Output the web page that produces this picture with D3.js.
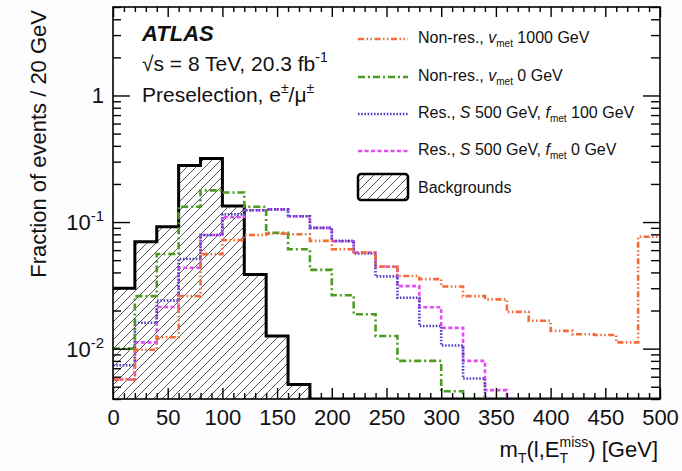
<!DOCTYPE html>
<html lang="en">
<head>
    <meta charset="UTF-8">
    <title>mT distribution, preselection</title>
    <script src="https://d3js.org/d3.v7.min.js"></script>
    <style>
        body { margin: 0; background-color: #fdfcfe; font-family: "Liberation Sans", Arial, sans-serif; }
        svg { display: block; }
        text { fill: #111; }
    </style>
</head>
<body>
    <div id="chart"></div>
    <script>
        // bin lower edges (GeV), 20 GeV bins
        const binEdges = [0, 20, 40, 60, 80, 100, 120, 140, 160, 180, 200, 220, 240,
            260, 280, 300, 320, 340, 360, 380, 400, 420, 440, 460, 480];
        const xMax = 500;

        // fraction of events per bin
        const backgrounds = [0.030, 0.070, 0.092, 0.280, 0.318, 0.134, 0.0385, 0.0126, 0.0052,
            0, 0, 0, 0, 0, 0, 0, 0, 0, 0, 0, 0, 0, 0, 0, 0];
        const nonRes1000 = [0.0057, 0.0098, 0.0123, 0.026, 0.0558, 0.072, 0.079, 0.081, 0.080,
            0.071, 0.061, 0.0575, 0.0445, 0.0375, 0.0354, 0.031, 0.026, 0.0245, 0.0195,
            0.0166, 0.0138, 0.013, 0.0128, 0.0112, 0.0766];
        const nonRes0 = [0.010, 0.026, 0.056, 0.132, 0.178, 0.171, 0.132, 0.0824, 0.061,
            0.0419, 0.0264, 0.0187, 0.0126, 0.008, 0.008, 0.0046,
            0, 0, 0, 0, 0, 0, 0, 0, 0];
        const res100 = [0.0074, 0.016, 0.024, 0.051, 0.079, 0.115, 0.124, 0.126, 0.111,
            0.090, 0.071, 0.0565, 0.0372, 0.0252, 0.0151, 0.0106, 0.0058,
            0, 0, 0, 0, 0, 0, 0, 0];
        const res0 = [0.0057, 0.0112, 0.0213, 0.0435, 0.079, 0.109, 0.124, 0.126, 0.111,
            0.090, 0.0706, 0.0575, 0.0443, 0.0312, 0.0212, 0.0146, 0.0080, 0.0047,
            0, 0, 0, 0, 0, 0, 0];

        const xTickLabels = [0, 50, 100, 150, 200, 250, 300, 350, 400, 450, 500];

        const width = 682,
            height = 471,
            margin = { top: 7, right: 22, bottom: 72, left: 113 };
        const iw = width - margin.left - margin.right,
            ih = height - margin.top - margin.bottom;
        const yMin = 0.004, yMax = 5;

        const svgRoot = d3.select("#chart")
            .append("svg")
            .attr("width", width)
            .attr("height", height);

        const defs = svgRoot.append("defs");
        defs.append("pattern")
            .attr("id", "hatch")
            .attr("patternUnits", "userSpaceOnUse")
            .attr("width", 9)
            .attr("height", 9)
            .append("path")
            .attr("d", "M-2,2 l4,-4 M0,9 l9,-9 M7,11 l4,-4")
            .attr("stroke", "#444")
            .attr("stroke-width", 0.9);
        defs.append("clipPath")
            .attr("id", "plotClip")
            .append("rect")
            .attr("width", iw)
            .attr("height", ih);

        const svg = svgRoot.append("g")
            .attr("transform", `translate(${margin.left},${margin.top})`);

        svg.append("rect")
            .attr("width", iw)
            .attr("height", ih)
            .attr("fill", "white");

        const x = d3.scaleLinear().domain([0, xMax]).range([0, iw]);
        const y = d3.scaleLog().domain([yMin, yMax]).range([ih, 0]);

        const toPoints = vals => binEdges.map((e, i) => [e, vals[i]]).concat([[xMax, vals[vals.length - 1]]]);
        const yv = v => y(Math.max(v, yMin));

        const stepLine = d3.line()
            .x(d => x(d[0]))
            .y(d => yv(d[1]))
            .curve(d3.curveStepAfter);
        const stepArea = d3.area()
            .x(d => x(d[0]))
            .y0(ih)
            .y1(d => yv(d[1]))
            .curve(d3.curveStepAfter);

        const series = [
            { name: "nonRes1000", vals: nonRes1000, color: "#f26b38", dash: "6,2.5,1.5,2.5,1.5,2.5" },
            { name: "nonRes0", vals: nonRes0, color: "#4a9b1f", dash: "7,3,2,3" },
            { name: "res100", vals: res100, color: "#4f40c4", dash: "1.6,1.6" },
            { name: "res0", vals: res0, color: "#e24cf2", dash: "4,2.5" }
        ];

        const plot = svg.append("g").attr("clip-path", "url(#plotClip)");

        // backgrounds: hatched, thick black outline
        plot.append("path")
            .datum(toPoints(backgrounds))
            .attr("d", stepArea)
            .attr("fill", "url(#hatch)");
        plot.append("path")
            .datum(toPoints(backgrounds))
            .attr("d", stepLine)
            .attr("fill", "none")
            .attr("stroke", "black")
            .attr("stroke-width", 3);

        // signals, drawn in reverse so orange sits on top
        series.slice().reverse().forEach(s => {
            plot.append("path")
                .datum(toPoints(s.vals))
                .attr("d", stepLine)
                .attr("fill", "none")
                .attr("stroke", s.color)
                .attr("stroke-width", 2.6)
                .attr("stroke-dasharray", s.dash);
        });

        // axes with ticks pointing inward, mirrored on top and right
        const xMinor = d3.range(0, xMax + 1, 10).filter(v => v % 50 !== 0);
        const yMinorTicks = [];
        [0.001, 0.01, 0.1, 1].forEach(d => {
            for (let k = 2; k <= 9; k++) {
                const v = +(k * d).toPrecision(3);
                if (v >= yMin && v <= yMax) yMinorTicks.push(v);
            }
        });

        function tickOnly(g) {
            g.select(".domain").remove();
            g.selectAll("line").attr("stroke", "black").attr("stroke-width", 1.4);
        }

        svg.append("g").attr("transform", `translate(0,${ih})`)
            .call(d3.axisBottom(x).tickValues(xMinor).tickSize(-6).tickFormat(""))
            .call(tickOnly);
        svg.append("g")
            .call(d3.axisTop(x).tickValues(xMinor).tickSize(-5).tickFormat(""))
            .call(tickOnly);
        svg.append("g")
            .call(d3.axisTop(x).tickValues(xTickLabels).tickSize(-10).tickFormat(""))
            .call(tickOnly);

        const xAxis = svg.append("g").attr("transform", `translate(0,${ih})`)
            .call(d3.axisBottom(x).tickValues(xTickLabels).tickSize(-11).tickPadding(10).tickFormat(d3.format("d")))
            .call(tickOnly);
        xAxis.selectAll("text")
            .attr("font-size", 22)
            .attr("font-family", "'Liberation Sans', Arial, sans-serif")
            .attr("fill", "#111");

        svg.append("g")
            .call(d3.axisLeft(y).tickValues(yMinorTicks).tickSize(-8).tickFormat(""))
            .call(tickOnly);
        svg.append("g").attr("transform", `translate(${iw},0)`)
            .call(d3.axisRight(y).tickValues(yMinorTicks).tickSize(-9).tickFormat(""))
            .call(tickOnly);
        svg.append("g").attr("transform", `translate(${iw},0)`)
            .call(d3.axisRight(y).tickValues([0.01, 0.1, 1]).tickSize(-17).tickFormat(""))
            .call(tickOnly);

        svg.append("g")
            .call(d3.axisLeft(y).tickValues([0.01, 0.1, 1]).tickSize(-17).tickFormat(""))
            .call(tickOnly);
        // y tick labels: 1, 10^-1, 10^-2
        const yLabels = [{ v: 1, exp: null }, { v: 0.1, exp: "-1" }, { v: 0.01, exp: "-2" }];
        yLabels.forEach(l => {
            const t = svg.append("text")
                .attr("x", -9)
                .attr("y", y(l.v) + 8)
                .attr("text-anchor", "end")
                .attr("font-size", 22);
            if (l.exp === null) {
                t.text("1");
            } else {
                t.append("tspan").text("10");
                t.append("tspan").attr("dy", -9).attr("font-size", 15).text(l.exp);
            }
        });

        // frame
        svg.append("rect")
            .attr("width", iw)
            .attr("height", ih)
            .attr("fill", "none")
            .attr("stroke", "black")
            .attr("stroke-width", 1.6);

        // axis titles
        svgRoot.append("text")
            .attr("transform", "translate(46,10) rotate(-90)")
            .attr("text-anchor", "end")
            .attr("font-size", 22)
            .text("Fraction of events / 20 GeV");

        const xt = svgRoot.append("text")
            .attr("x", 658)
            .attr("y", 457)
            .attr("text-anchor", "end")
            .attr("font-size", 22);
        xt.append("tspan").text("m");
        xt.append("tspan").attr("dy", 6).attr("font-size", 14).text("T");
        xt.append("tspan").attr("dy", -6).text("(l,E");
        xt.append("tspan").attr("dy", 6).attr("font-size", 14).text("T");
        xt.append("tspan").attr("dx", -8.5).attr("dy", -16).attr("font-size", 14).text("miss");
        xt.append("tspan").attr("dy", 10).text(") [GeV]");

        // ATLAS label block
        svgRoot.append("text")
            .attr("x", 142)
            .attr("y", 41)
            .attr("font-size", 22)
            .attr("font-weight", "bold")
            .attr("font-style", "italic")
            .text("ATLAS");
        const lumi = svgRoot.append("text")
            .attr("x", 142)
            .attr("y", 71)
            .attr("font-size", 21);
        lumi.append("tspan").text("\u221As = 8 TeV, 20.3 fb");
        lumi.append("tspan").attr("dy", -9).attr("font-size", 14).text("-1");
        const presel = svgRoot.append("text")
            .attr("x", 142)
            .attr("y", 102)
            .attr("font-size", 21);
        presel.append("tspan").text("Preselection, e");
        presel.append("tspan").attr("dy", -9).attr("font-size", 14).text("\u00B1");
        presel.append("tspan").attr("dy", 9).text("/\u03BC");
        presel.append("tspan").attr("dy", -9).attr("font-size", 14).text("\u00B1");

        // legend
        const legendX = 358, legendTextX = 418;
        const legendRows = [
            { s: series[0], base: 43, parts: [["Non-res., "], ["v", "i"], ["met", "sub"], [" 1000 GeV"]] },
            { s: series[1], base: 81, parts: [["Non-res., "], ["v", "i"], ["met", "sub"], [" 0 GeV"]] },
            { s: series[2], base: 118, parts: [["Res., "], ["S", "i"], [" 500 GeV, "], ["f", "i"], ["met", "sub"], [" 100 GeV"]] },
            { s: series[3], base: 155, parts: [["Res., "], ["S", "i"], [" 500 GeV, "], ["f", "i"], ["met", "sub"], [" 0 GeV"]] }
        ];
        legendRows.forEach(r => {
            svgRoot.append("line")
                .attr("x1", legendX)
                .attr("x2", legendX + 50)
                .attr("y1", r.base - 4)
                .attr("y2", r.base - 4)
                .attr("stroke", r.s.color)
                .attr("stroke-width", 2.6)
                .attr("stroke-dasharray", r.s.dash);
            const t = svgRoot.append("text")
                .attr("x", legendTextX)
                .attr("y", r.base)
                .attr("font-size", 16);
            let shifted = false;
            r.parts.forEach(p => {
                const ts = t.append("tspan").text(p[0]);
                if (p[1] === "i") ts.attr("font-style", "italic");
                if (p[1] === "sub") {
                    ts.attr("font-size", 10).attr("dy", 4);
                    shifted = true;
                } else if (shifted) {
                    ts.attr("dy", -4);
                    shifted = false;
                }
            });
        });
        svgRoot.append("rect")
            .attr("x", legendX)
            .attr("y", 174)
            .attr("width", 50)
            .attr("height", 26)
            .attr("rx", 3)
            .attr("fill", "url(#hatch)")
            .attr("stroke", "black")
            .attr("stroke-width", 2.5);
        svgRoot.append("text")
            .attr("x", legendTextX)
            .attr("y", 193)
            .attr("font-size", 16)
            .text("Backgrounds");
    </script>
</body>
</html>
